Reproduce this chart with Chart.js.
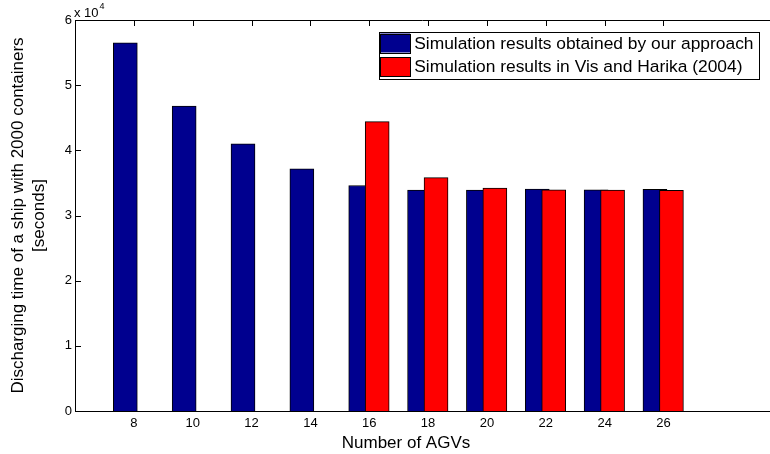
<!DOCTYPE html>
<html><head><meta charset="utf-8">
<script src="https://cdn.jsdelivr.net/npm/chart.js@4"></script>
<style>html,body{margin:0;padding:0;background:#fff}#wrap{width:770px;height:454px;position:relative}</style>
</head><body><div id="wrap"><canvas id="c" width="770" height="454"></canvas></div>
<script>
// ---- data ----
const agvCounts = [8, 10, 12, 14, 16, 18, 20, 22, 24, 26];
const ourApproach = [56500, 46800, 41000, 37150, 34600, 33900, 33900, 34050, 33950, 34000];
const visHarika = [null, null, null, null, 44400, 35800, 34200, 33950, 33900, 33850];
const seriesLabels = ['Simulation results obtained by our approach', 'Simulation results in Vis and Harika (2004)'];
const yTickValues = [0, 10000, 20000, 30000, 40000, 50000, 60000];
const yTitleLines = ['Discharging time of a ship with 2000 containers', '[seconds]'];
const xTitleText = 'Number of AGVs';
const exponentText = ['x 10', '4'];

// ---- style ----
const FONT = '"Liberation Sans", Arial, Helvetica, sans-serif';
const BLUE = '#00008f', RED = '#ff0000';
const SHIFT_BLUE = -0.29, SHIFT_RED = 0.27;

const toPoints = (vals, shift) => vals.map((v, i) => ({ x: agvCounts[i] + shift, y: v }));

const decorPlugin = {
  id: 'decor',
  beforeDatasetsDraw(chart) {
    const { ctx, chartArea: a, scales: { x, y } } = chart;
    ctx.save();
    ctx.strokeStyle = '#000'; ctx.lineWidth = 1;
    ctx.beginPath();
    x.ticks.forEach(t => {
      const px = Math.round(x.getPixelForValue(t.value)) + 0.5;
      ctx.moveTo(px, a.bottom); ctx.lineTo(px, a.bottom - 6);
    });
    ctx.stroke();
    ctx.restore();
  },
  afterDraw(chart) {
    const { ctx, chartArea: a, scales: { x, y } } = chart;
    ctx.save();
    ctx.strokeStyle = '#000'; ctx.lineWidth = 1;
    ctx.beginPath();
    const ty = Math.round(a.top) + 0.5;
    ctx.moveTo(a.left, ty); ctx.lineTo(a.right, ty);
    x.ticks.forEach(t => {
      const px = Math.round(x.getPixelForValue(t.value)) + 0.5;
      ctx.moveTo(px, a.top); ctx.lineTo(px, a.top + 6);
    });
    y.ticks.forEach(t => {
      const py = Math.round(y.getPixelForValue(t.value)) + 0.5;
      ctx.moveTo(a.left, py); ctx.lineTo(a.left + 6, py);
    });
    ctx.stroke();

    // exponent label
    ctx.fillStyle = '#000';
    ctx.textBaseline = 'alphabetic'; ctx.textAlign = 'left';
    ctx.font = '13px ' + FONT;
    ctx.fillText(exponentText[0], a.left - 1, 17);
    const w = ctx.measureText(exponentText[0]).width;
    ctx.font = '9px ' + FONT;
    ctx.fillText(exponentText[1], a.left + w, 9);

    // x title
    ctx.font = '17px ' + FONT;
    ctx.textAlign = 'center'; ctx.textBaseline = 'middle';
    ctx.fillText(xTitleText, 406, 443);

    // legend
    const ds = chart.data.datasets;
    ctx.font = '17.4px ' + FONT;
    const textW = Math.max(...ds.map(d => ctx.measureText(d.label).width));
    const right = 759, top = 32, rowH = 23.5, swW = 30, swH = 19;
    const left = right - (swW + 5 + textW + 4) - 2;
    const bottom = top + 2 * rowH;
    ctx.fillStyle = '#fff';
    ctx.fillRect(left, top, right - left, bottom - top);
    ctx.strokeStyle = '#000';
    ctx.strokeRect(Math.round(left) + 0.5, top + 0.5, Math.round(right - left), bottom - top);
    ds.forEach((d, i) => {
      const sy = top + 1.5 + i * rowH;
      ctx.fillStyle = d.backgroundColor;
      ctx.fillRect(left + 1.5, sy, swW, swH);
      ctx.strokeStyle = '#000';
      ctx.strokeRect(Math.round(left + 1.5) + 0.5, Math.round(sy) + 0.5, swW, swH);
      ctx.fillStyle = '#000';
      ctx.textAlign = 'left'; ctx.textBaseline = 'middle';
      ctx.fillText(d.label, left + 1.5 + swW + 4, sy + swH / 2 + 1);
    });
    ctx.restore();
  }
};

new Chart(document.getElementById('c'), {
  type: 'bar',
  data: {
    datasets: [
      { label: seriesLabels[0], data: toPoints(ourApproach, SHIFT_BLUE), backgroundColor: BLUE,
        borderColor: '#000', borderWidth: 1, borderSkipped: 'bottom', barThickness: 24, grouped: false, order: 1 },
      { label: seriesLabels[1], data: toPoints(visHarika, SHIFT_RED), backgroundColor: RED,
        borderColor: '#000', borderWidth: 1, borderSkipped: 'bottom', barThickness: 24, grouped: false, order: 0 }
    ]
  },
  options: {
    responsive: false,
    animation: false,
    devicePixelRatio: 1,
    layout: { padding: { top: 20, right: 0, bottom: 0, left: 0 } },
    plugins: { legend: { display: false }, tooltip: { enabled: false } },
    scales: {
      x: {
        type: 'linear', min: 6, max: 29.62, offset: false,
        afterBuildTicks: s => { s.ticks = agvCounts.map(v => ({ value: v })); },
        afterFit: s => { s.height = 43; },
        grid: { display: false, drawTicks: false, offset: false },
        border: { display: true, color: '#000', width: 1 },
        ticks: { color: '#000', padding: 5, font: { size: 13, family: FONT }, callback: v => String(v), maxRotation: 0, autoSkip: false }
      },
      y: {
        min: 0, max: 60000,
        afterBuildTicks: s => { s.ticks = yTickValues.map(v => ({ value: v })); },
        afterFit: s => { s.width = 75; },
        grid: { display: false, drawTicks: false },
        border: { display: true, color: '#000', width: 1 },
        ticks: { color: '#000', padding: 3, font: { size: 13, family: FONT }, callback: v => String(v / 10000) },
        title: { display: true, text: yTitleLines, color: '#000', font: { size: 17, family: FONT, lineHeight: 1.25 }, padding: { top: 7.5, bottom: 0 } }
      }
    }
  },
  plugins: [decorPlugin]
});
</script>
</body></html>
